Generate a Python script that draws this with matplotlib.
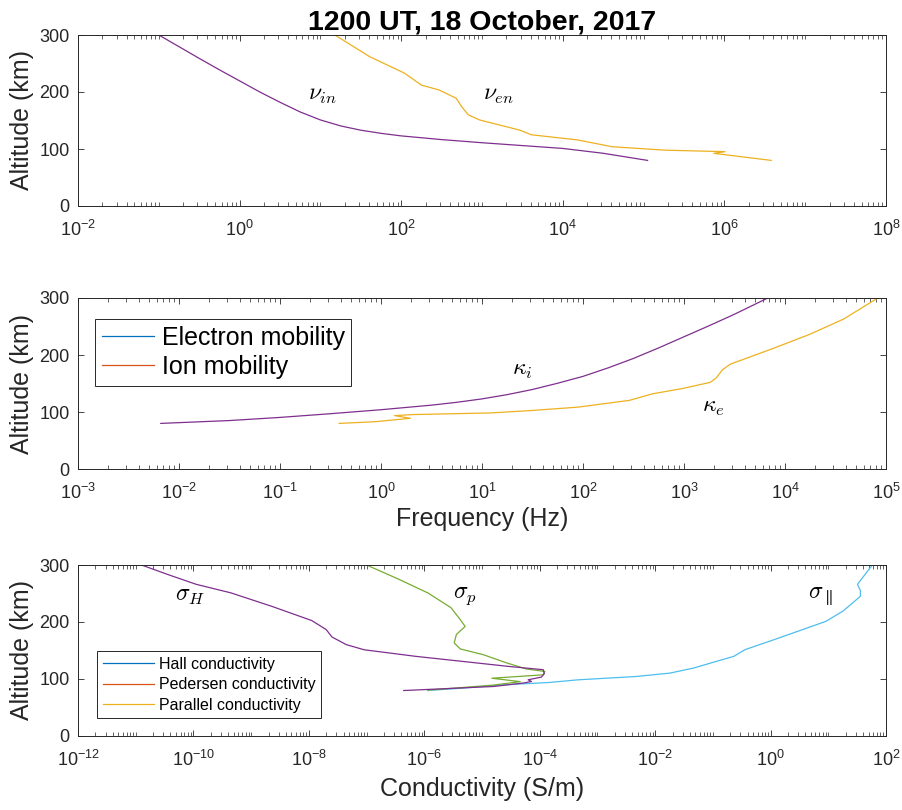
import numpy as np
import matplotlib
matplotlib.use('Agg')
import matplotlib.pyplot as plt
from matplotlib.lines import Line2D
from matplotlib.ticker import FixedLocator, LogLocator, NullFormatter, LogFormatterSciNotation

plt.rcParams['font.family'] = ['Liberation Sans', 'DejaVu Sans']
plt.rcParams['mathtext.fontset'] = 'cm'

# ---------------- data ----------------
# Panel 1: collision frequencies
nu_in_alt = [300, 279.5, 259, 239, 219.5, 200, 182, 165, 151, 140.5, 133, 127.5, 123,
             116.5, 111, 106, 101, 92.5, 80]
nu_in_val = [0.1, 0.178, 0.316, 0.562, 1.0, 1.78, 3.16, 5.62, 10, 17.8, 31.6, 56.2, 100,
             316, 1000, 3160, 1e4, 3.16e4, 1.12e5]

nu_en_alt = [300, 262, 233, 212, 203.5, 189, 174, 160, 151, 133, 125, 116, 104, 98, 95.3, 92.4, 80]
nu_en_val = [15.1, 40.7, 110, 178, 295, 479, 562, 676, 933, 2950, 4070, 1.51e4, 4.07e4,
             1.82e5, 1.02e6, 7.4e5, 3.8e6]

# Panel 2: mobilities
kappa_i_alt = [80, 85, 90.5, 97, 104, 112, 117, 123, 130.5, 139.5, 150.5, 162.5, 177.5, 194,
               212.5, 232, 251.5, 271.5, 300]
kappa_i_val = [6.6e-3, 0.0316, 0.1, 0.316, 1.0, 3.16, 5.62, 10, 17.8, 31.6, 56.2, 100, 178,
               316, 562, 1000, 1780, 3160, 6760]

kappa_e_alt = [80, 83, 89, 93.7, 95.5, 98.4, 102.6, 108.5, 120.4, 132, 141, 152, 160, 174,
               184, 197, 212, 236, 263, 300]
kappa_e_val = [0.385, 0.883, 1.95, 1.36, 2.09, 12.3, 30.9, 89, 288, 490, 955, 1820, 2090,
               2400, 2880, 4570, 7760, 1.74e4, 3.8e4, 8.3e4]

# Panel 3: conductivities
sig_H_alt = [300, 283.5, 266, 251, 227.6, 202.4, 186.5, 173.5, 160, 151, 139.4, 130.6, 121.8,
             116, 109, 103, 98.3, 95.3, 92.5, 86.5, 79.4]
sig_H_val = [1.26e-11, 3.55e-11, 1.12e-10, 4.47e-10, 2.24e-9, 1.12e-8, 2.0e-8, 2.51e-8, 4.47e-8,
             9.1e-8, 7.2e-7, 4.57e-6, 2.88e-5, 1.15e-4, 1.2e-4, 1.07e-4, 6.3e-5, 7.2e-5, 5.2e-5,
             1.58e-5, 4.4e-7]

sig_P_alt = [300, 275, 251, 225, 204, 192, 178, 163, 152.5, 142.4, 127.8, 117.2, 112.9, 107,
             101, 95, 89, 80]
sig_P_val = [1e-7, 3.6e-7, 1.15e-6, 2.9e-6, 4.2e-6, 5.1e-6, 3.6e-6, 3.3e-6, 4.2e-6, 1.05e-5,
             2.7e-5, 5.9e-5, 1.23e-4, 1.15e-4, 1.48e-5, 4.6e-5, 1.6e-5, 1.15e-6]

sig_par_alt = [79.4, 83.5, 89.4, 93.5, 98.2, 104, 110, 118.8, 127.6, 139.4, 151.2, 168.8, 186.5,
               201, 219, 245, 255, 266, 300]
sig_par_val = [1.15e-6, 4.5e-6, 2.3e-5, 1.45e-4, 4.6e-4, 4.6e-3, 0.018, 0.046, 0.091, 0.23, 0.36,
               1.15, 3.6, 9.1, 18, 36, 36, 32, 58]

title = '1200 UT, 18 October, 2017'
legend2_labels = ['Electron mobility', 'Ion mobility']
legend3_labels = ['Hall conductivity', 'Pedersen conductivity', 'Parallel conductivity']

# ---------------- styling ----------------
C_BLUE, C_ORANGE, C_YELLOW = '#0072BD', '#D95319', '#EDB120'
C_PURPLE, C_GREEN, C_CYAN = '#7E2F8E', '#77AC30', '#4DBEEE'
AX_COLOR = '#262626'
LW = 0.9

fig = plt.figure(figsize=(9.03, 8.10), dpi=100)
left, width = 78 / 903, (886 - 78) / 903
ax1 = fig.add_axes([left, 1 - 206 / 810, width, 171 / 810])
ax2 = fig.add_axes([left, 1 - 469 / 810, width, 171 / 810])
ax3 = fig.add_axes([left, 1 - 735.7 / 810, width, 170.7 / 810])


def style(ax, xmin_exp, xmax_exp, step):
    ax.set_xscale('log')
    ax.set_xlim(10.0 ** xmin_exp, 10.0 ** xmax_exp)
    ax.set_ylim(0, 300)
    ax.set_yticks([0, 100, 200, 300])
    ax.xaxis.set_major_locator(FixedLocator(10.0 ** np.arange(xmin_exp, xmax_exp + 1, step)))
    ax.xaxis.set_major_formatter(LogFormatterSciNotation())
    ax.xaxis.set_minor_locator(LogLocator(base=10, subs=np.arange(1, 10), numticks=200))
    ax.xaxis.set_minor_formatter(NullFormatter())
    ax.tick_params(which='both', direction='in', top=True, right=True, colors=AX_COLOR,
                   labelsize=13, labelcolor=AX_COLOR)
    ax.tick_params(which='major', length=4.5, width=0.6)
    ax.tick_params(axis='x', which='major', pad=10)
    ax.tick_params(axis='y', which='major', pad=6)
    ax.tick_params(which='minor', length=3, width=0.5)
    for s in ax.spines.values():
        s.set_color(AX_COLOR)
        s.set_linewidth(0.7)
    ax.set_ylabel('Altitude (km)', fontsize=18, color=AX_COLOR, labelpad=4)


style(ax1, -2, 8, 2)
style(ax2, -3, 5, 1)
style(ax3, -12, 2, 2)

# Panel 1
ax1.plot(nu_in_val, nu_in_alt, color=C_PURPLE, lw=LW)
ax1.plot(nu_en_val, nu_en_alt, color=C_YELLOW, lw=LW)
ax1.text(10.7, 195, r'$\nu_{in}$', fontsize=17, ha='center', va='center')
ax1.text(1.6e3, 195, r'$\nu_{en}$', fontsize=17, ha='center', va='center')
ax1.set_title(title, fontsize=20.5, fontweight='bold', pad=3)

# Panel 2
ax2.plot(kappa_i_val, kappa_i_alt, color=C_PURPLE, lw=LW)
ax2.plot(kappa_e_val, kappa_e_alt, color=C_YELLOW, lw=LW)
ax2.text(25, 174, r'$\kappa_{i}$', fontsize=17, ha='center', va='center')
ax2.text(1950, 109, r'$\kappa_{e}$', fontsize=17, ha='center', va='center')
ax2.set_xlabel('Frequency (Hz)', fontsize=18, color=AX_COLOR, labelpad=3)
h2 = [Line2D([], [], color=c, lw=LW) for c in (C_BLUE, C_ORANGE)]
lg2 = ax2.legend(h2, legend2_labels, loc='upper left', bbox_to_anchor=(0.021, 0.877),
                 borderaxespad=0, fontsize=18, handlelength=2.1, handletextpad=0.3,
                 labelspacing=0.2, borderpad=0.27, fancybox=False, framealpha=1,
                 edgecolor=AX_COLOR)
lg2.get_frame().set_linewidth(0.7)

# Panel 3
ax3.plot(sig_par_val, sig_par_alt, color=C_CYAN, lw=LW)
ax3.plot(sig_P_val, sig_P_alt, color=C_GREEN, lw=LW)
ax3.plot(sig_H_val, sig_H_alt, color=C_PURPLE, lw=LW)
ax3.text(8.9e-11, 245, r'$\sigma_{H}$', fontsize=17, ha='center', va='center')
ax3.text(5.1e-6, 245, r'$\sigma_{p}$', fontsize=17, ha='center', va='center')
ax3.text(7.2, 245, r'$\sigma_{\parallel}$', fontsize=17, ha='center', va='center')
ax3.set_xlabel('Conductivity (S/m)', fontsize=18, color=AX_COLOR, labelpad=5)
h3 = [Line2D([], [], color=c, lw=LW) for c in (C_BLUE, C_ORANGE, C_YELLOW)]
lg3 = ax3.legend(h3, legend3_labels, loc='upper left', bbox_to_anchor=(0.0235, 0.496),
                 borderaxespad=0, fontsize=11.5, handlelength=3.25, handletextpad=0.3,
                 labelspacing=0.35, borderpad=0.35, fancybox=False, framealpha=1,
                 edgecolor=AX_COLOR)
lg3.get_frame().set_linewidth(0.7)

fig.savefig('out.png', dpi=100)
